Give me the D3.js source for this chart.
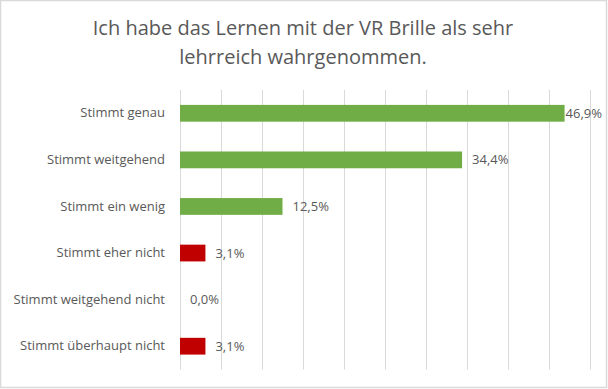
<!DOCTYPE html>
<html>
<head>
<meta charset="utf-8">
<script src="https://cdn.jsdelivr.net/npm/d3@7"></script>
<style>
  body { margin: 0; background: #fff; }
  text { font-family: "Open Sans", sans-serif; fill: #595959; }
</style>
</head>
<body>
<div id="chart"></div>
<script>
// data
var categories = ['Stimmt genau', 'Stimmt weitgehend', 'Stimmt ein wenig',
                  'Stimmt eher nicht', 'Stimmt weitgehend nicht', 'Stimmt überhaupt nicht']
var values = [46.9, 34.4, 12.5, 3.1, 0.0, 3.1]
var positive = [true, true, true, false, false, false]
var xTicks = [0, 5, 10, 15, 20, 25, 30, 35, 40, 45, 50]
var titleLines = ['Ich habe das Lernen mit der VR Brille als sehr', 'lehrreich wahrgenommen.']

var W = 608, H = 389
var margin = {top: 90, right: 18, bottom: 19.5, left: 180}
var width = W - margin.left - margin.right,
    height = H - margin.top - margin.bottom

var svg = d3.select('#chart').append('svg')
    .attr('width', W)
    .attr('height', H)

// chart border
svg.append('rect')
    .attr('x', 0.5).attr('y', 0.5)
    .attr('width', W - 2).attr('height', H - 2)
    .attr('fill', '#fff')
    .attr('stroke', '#d9d9d9')
    .attr('stroke-width', 1.5)

// title
svg.append('g').selectAll('text')
    .data(titleLines)
    .enter().append('text')
    .attr('x', 303)
    .attr('y', function(d, i) { return 35 + i * 29 })
    .attr('text-anchor', 'middle')
    .style('font-size', '20px')
    .text(function(d) { return d })

var g = svg.append('g')
    .attr('transform', 'translate(' + margin.left + ',' + margin.top + ')')

var x = d3.scaleLinear()
    .domain([0, 50])
    .range([0, width])

var y = d3.scaleBand()
    .domain(categories)
    .range([0, height])
    .paddingInner(0.64)
    .paddingOuter(0.32)

// vertical gridlines
g.append('g')
    .attr('class', 'grid')
    .call(d3.axisBottom(x)
        .tickValues(xTicks)
        .tickSize(height)
        .tickFormat(''))
    .call(function(s) { s.select('.domain').remove() })
    .selectAll('line')
    .attr('stroke', '#d9d9d9')
    .attr('stroke-width', 1)

// category axis
g.append('g')
    .call(d3.axisLeft(y).tickSize(0).tickPadding(15))
    .call(function(s) { s.select('.domain').remove() })
    .selectAll('text')
    .style('font-size', '13px')
    .style('fill', '#595959')

// bars
g.selectAll('.bar')
    .data(values)
    .enter().append('rect')
    .attr('class', 'bar')
    .attr('x', x(0))
    .attr('y', function(d, i) { return y(categories[i]) })
    .attr('width', function(d) { return x(d) - x(0) })
    .attr('height', y.bandwidth())
    .attr('fill', function(d, i) { return positive[i] ? '#70ad47' : '#c00000' })

// value labels
g.selectAll('.val')
    .data(values)
    .enter().append('text')
    .attr('class', 'val')
    .attr('y', function(d, i) { return y(categories[i]) + y.bandwidth() / 2 })
    .attr('dy', '0.35em')
    .style('font-size', '13px')
    .text(function(d) { return d.toFixed(1).replace('.', ',') + '%' })
    .each(function(d) {
        var t = d3.select(this)
        var w = this.getComputedTextLength()
        var xs = x(d) + 10
        // keep the label inside the chart area
        if (xs + w > width + 12) xs = width + 12 - w
        t.attr('x', xs)
    })
</script>
</body>
</html>
